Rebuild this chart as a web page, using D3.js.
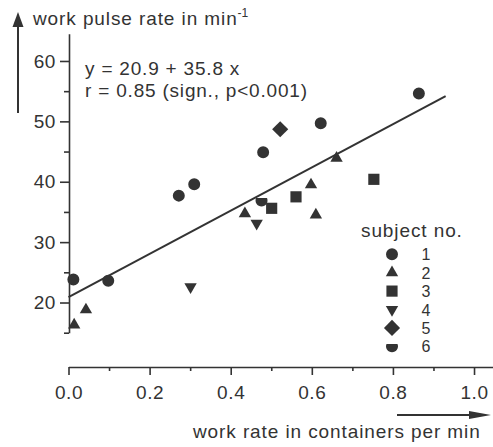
<!DOCTYPE html>
<html>
<head>
<meta charset="utf-8">
<script src="https://cdn.jsdelivr.net/npm/d3@7"></script>
<style>
body { margin: 0; background: #fff; }
svg text { font-family: "Liberation Sans", Arial, sans-serif; }
</style>
</head>
<body>
<script>
"use strict";

var width = 493;
var height = 447;
var ink = "#333";
var textInk = "#333";

// values (work rate, pulse rate) per subject
var rateS1 = [0.012, 0.098, 0.272, 0.31, 0.48, 0.622, 0.864];
var pulseS1 = [23.8, 23.6, 37.7, 39.6, 44.9, 49.7, 54.6];
var rateS2 = [0.014, 0.043, 0.435, 0.598, 0.61, 0.661];
var pulseS2 = [16.3, 18.8, 34.7, 39.5, 34.5, 43.9];
var rateS3 = [0.501, 0.561, 0.753];
var pulseS3 = [35.6, 37.5, 40.4];
var rateS4 = [0.301, 0.464];
var pulseS4 = [22.6, 33.1];
var rateS5 = [0.522];
var pulseS5 = [48.7];
var rateS6 = [0.476];
var pulseS6 = [36.9];

var subjects = ["1", "2", "3", "4", "5", "6"];

// regression from the figure: y = 20.9 + 35.8 x, drawn up to x = 0.93
var fitIntercept = 20.9;
var fitSlope = 35.8;
var fitRange = [0, 0.93];

var xTicks = [0, 0.2, 0.4, 0.6, 0.8, 1.0];
var xMinor = [0.1, 0.3, 0.5, 0.7, 0.9];
var yTicks = [20, 30, 40, 50, 60];
var yMinor = [15, 25, 35, 45, 55];

var eqLines = ["y = 20.9 + 35.8 x", "r = 0.85 (sign., p<0.001)"];

var rates = [rateS1, rateS2, rateS3, rateS4, rateS5, rateS6];
var pulses = [pulseS1, pulseS2, pulseS3, pulseS4, pulseS5, pulseS6];

var points = [];
rates.forEach(function (rs, i) {
    rs.forEach(function (r, j) {
        points.push({subject: i, rate: r, pulse: pulses[i][j]});
    });
});

var x = d3.scaleLinear().domain([0, 1.05]).range([68.5, 494.3]);
var y = d3.scaleLinear().domain([15, 64.5]).range([332.7, 33.8]);

// marker paths, one per subject
function shield() {
    var r = 6, y0 = -2.4;
    var w = Math.sqrt(r * r - y0 * y0);
    return "M" + (-w) + "," + y0 + "L" + w + "," + y0 + "A" + r + "," + r + " 0 1 1 " + (-w) + "," + y0 + "Z";
}
var markers = [
    {d: d3.symbol(d3.symbolCircle, 113)(), rot: 0},
    {d: d3.symbol(d3.symbolTriangle, 66)(), rot: 0},
    {d: d3.symbol(d3.symbolSquare, 125)(), rot: 0},
    {d: d3.symbol(d3.symbolTriangle, 66)(), rot: 180},
    {d: d3.symbol(d3.symbolSquare, 130)(), rot: 45},
    {d: shield(), rot: 0}
];

var svg = d3.select("body").append("svg")
    .attr("width", width)
    .attr("height", height)
    .style("display", "block")
    .style("background", "#fff");

function styleAxis(g) {
    g.attr("font-size", 19)
        .attr("font-family", "Liberation Sans, Arial, sans-serif")
        .attr("color", ink);
    g.selectAll("line, path").attr("stroke-width", 1.6);
    g.selectAll("text").attr("fill", textInk).style("letter-spacing", "0.6px");
}

// y axis
var yAxis = svg.append("g")
    .attr("transform", "translate(69,0)")
    .call(d3.axisLeft(y).tickValues(yTicks).tickSize(9).tickSizeOuter(0).tickPadding(4));
styleAxis(yAxis);
var yMinorAxis = svg.append("g")
    .attr("transform", "translate(69,0)")
    .call(d3.axisLeft(y).tickValues(yMinor).tickSize(5).tickFormat(""));
yMinorAxis.select(".domain").remove();
styleAxis(yMinorAxis);

// x axis
var xAxis = svg.append("g")
    .attr("transform", "translate(0,367)")
    .call(d3.axisBottom(x).tickValues(xTicks).tickSize(8).tickSizeOuter(0).tickPadding(11)
        .tickFormat(d3.format(".1f")));
styleAxis(xAxis);
var xMinorAxis = svg.append("g")
    .attr("transform", "translate(0,367)")
    .call(d3.axisBottom(x).tickValues(xMinor).tickSize(4).tickFormat(""));
xMinorAxis.select(".domain").remove();
styleAxis(xMinorAxis);

// axis titles and arrows
var yTitle = svg.append("text")
    .attr("x", 33).attr("y", 25)
    .attr("font-size", 19).attr("fill", textInk)
    .style("letter-spacing", "0.9px")
    .text("work pulse rate in min");
yTitle.append("tspan")
    .attr("font-size", 12).attr("dy", -8)
    .style("letter-spacing", "0px")
    .text("-1");

svg.append("line")
    .attr("x1", 18).attr("x2", 18).attr("y1", 113).attr("y2", 24)
    .attr("stroke", ink).attr("stroke-width", 2);
svg.append("path")
    .attr("d", "M18,12L12.5,27L23.5,27Z")
    .attr("fill", ink);

svg.append("text")
    .attr("x", 193).attr("y", 438)
    .attr("font-size", 19).attr("fill", textInk)
    .style("letter-spacing", "0.9px")
    .text("work rate in containers per min");

svg.append("line")
    .attr("x1", 397).attr("x2", 475).attr("y1", 415).attr("y2", 415)
    .attr("stroke", ink).attr("stroke-width", 2);
svg.append("path")
    .attr("d", "M491,415L469,411L469,419Z")
    .attr("fill", ink);

// equation
svg.append("g")
    .selectAll("text")
    .data(eqLines)
    .enter().append("text")
    .attr("x", 85)
    .attr("y", function (d, i) { return 75 + i * 22; })
    .attr("font-size", 19).attr("fill", textInk)
    .style("letter-spacing", "0.8px")
    .text(function (d) { return d; });

// regression line
var line = d3.line()
    .x(function (d) { return x(d); })
    .y(function (d) { return y(fitIntercept + fitSlope * d); });
svg.append("path")
    .datum(fitRange)
    .attr("d", line)
    .attr("fill", "none")
    .attr("stroke", ink)
    .attr("stroke-width", 2);

// points
svg.append("g")
    .selectAll("path")
    .data(points)
    .enter().append("path")
    .attr("d", function (d) { return markers[d.subject].d; })
    .attr("transform", function (d) {
        return "translate(" + x(d.rate) + "," + y(d.pulse) + ") rotate(" + markers[d.subject].rot + ")";
    })
    .attr("fill", ink);

// legend
var legend = svg.append("g");
legend.append("text")
    .attr("x", 361).attr("y", 237)
    .attr("font-size", 19).attr("fill", textInk)
    .style("letter-spacing", "0.9px")
    .text("subject no.");
var rows = legend.selectAll("g.row")
    .data(subjects)
    .enter().append("g")
    .attr("class", "row")
    .attr("transform", function (d, i) { return "translate(0," + (254.3 + i * 18.4) + ")"; });
rows.append("path")
    .attr("d", function (d, i) { return markers[i].d; })
    .attr("transform", function (d, i) { return "translate(392,0) rotate(" + markers[i].rot + ")"; })
    .attr("fill", ink);
rows.append("text")
    .attr("x", 426).attr("y", 6)
    .attr("text-anchor", "middle")
    .attr("font-size", 16).attr("fill", textInk)
    .text(function (d) { return d; });
</script>
</body>
</html>
